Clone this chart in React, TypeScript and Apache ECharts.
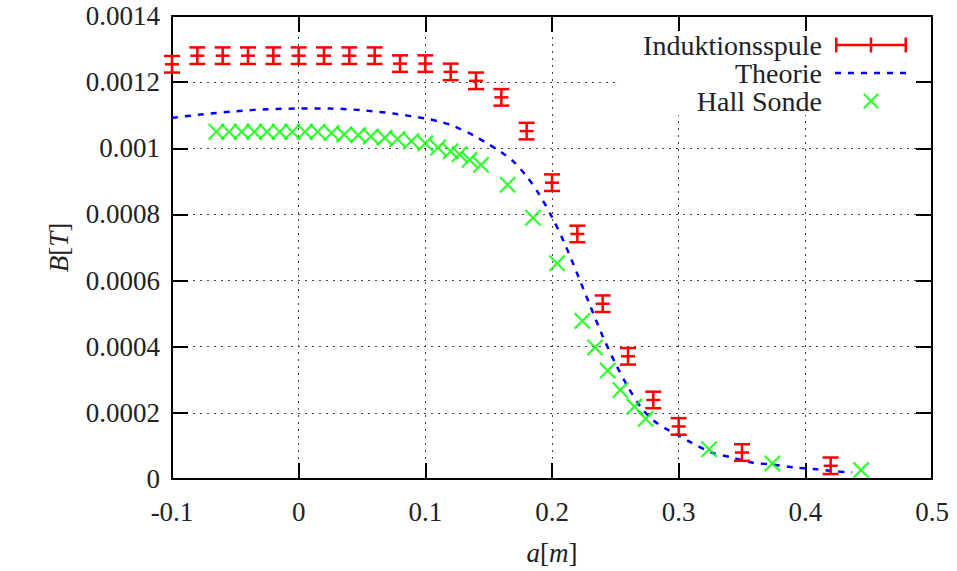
import React, { useEffect, useRef } from "react";
import * as echarts from "echarts";

// ---------- data ----------
const indX = [-0.1, -0.08, -0.06, -0.04, -0.02, 0, 0.02, 0.04, 0.06, 0.08, 0.1, 0.12, 0.14, 0.16, 0.18, 0.2, 0.22, 0.24, 0.26, 0.28, 0.3, 0.35, 0.42];
const indY = [0.001254, 0.00128, 0.00128, 0.00128, 0.00128, 0.00128, 0.00128, 0.00128, 0.00128, 0.001256, 0.001256, 0.001231, 0.001204, 0.001154, 0.001052, 0.000896, 0.000741, 0.00053, 0.000371, 0.000239, 0.000159, 0.00008, 0.00004];
const indErr = [0.000025, 0.000025, 0.000025, 0.000025, 0.000025, 0.000025, 0.000025, 0.000025, 0.000025, 0.000025, 0.000025, 0.000025, 0.000025, 0.000025, 0.000025, 0.000025, 0.000025, 0.000025, 0.000025, 0.000025, 0.000025, 0.000025, 0.000025];

const theoX = [-0.1, -0.075, -0.05, -0.025, 0, 0.025, 0.05, 0.075, 0.1, 0.112, 0.122, 0.14, 0.15, 0.16, 0.17, 0.18, 0.19, 0.2, 0.21, 0.22, 0.23, 0.24, 0.25, 0.26, 0.27, 0.28, 0.29, 0.3, 0.309, 0.326, 0.342, 0.358, 0.375, 0.391, 0.407, 0.424, 0.437];
const theoY = [0.001092, 0.001103, 0.001112, 0.001118, 0.00112, 0.00112, 0.001115, 0.001105, 0.00109, 0.00108, 0.001068, 0.001035, 0.001012, 0.000988, 0.000958, 0.000915, 0.00086, 0.000792, 0.000712, 0.00062, 0.000525, 0.000432, 0.00035, 0.000278, 0.000218, 0.000177, 0.000152, 0.000132, 0.000112, 0.00008, 0.000065, 0.00005, 0.000043, 0.000035, 0.00003, 0.000023, 0.00002];

const hallX = [-0.065, -0.055, -0.045, -0.035, -0.025, -0.015, -0.005, 0.005, 0.015, 0.026, 0.036, 0.047, 0.057, 0.068, 0.078, 0.089, 0.1, 0.11, 0.12, 0.127, 0.135, 0.144, 0.165, 0.185, 0.204, 0.224, 0.234, 0.244, 0.254, 0.265, 0.274, 0.324, 0.374, 0.444];
const hallY = [0.00105, 0.00105, 0.00105, 0.00105, 0.00105, 0.00105, 0.00105, 0.00105, 0.00105, 0.001046, 0.001042, 0.00104, 0.001036, 0.001032, 0.001028, 0.001022, 0.001015, 0.001002, 0.000991, 0.000982, 0.000965, 0.00095, 0.00089, 0.00079, 0.000652, 0.000478, 0.000398, 0.000328, 0.000269, 0.000219, 0.000182, 0.00009, 0.000047, 0.000027];

const seriesNames = ["Induktionsspule", "Theorie", "Hall Sonde"];
const xRange = [-0.1, 0.5, 0.1];
const yRange = [0, 0.0014, 0.0002];

// ---------- styling helpers ----------
const FONT = "'Liberation Serif', 'DejaVu Serif', serif";
const RED = "#ff0000";
const BLUE = "#0000ff";
const GREEN = "#00ff00";
const TXT = "#222";

const rp = (x: number, y: number, w: number, h: number) => `M${x} ${y}h${w}v${h}h${-w}Z`;
const xPath = (cx: number, cy: number, r: number, t: number) =>
  `M${cx - r} ${cy - r + t}L${cx - r + t} ${cy - r}L${cx + r} ${cy + r - t}L${cx + r - t} ${cy + r}Z` +
  `M${cx + r - t} ${cy - r}L${cx + r} ${cy - r + t}L${cx - r + t} ${cy + r}L${cx - r} ${cy + r - t}Z`;
const corners = "M0 0h0.01v0.01h-0.01Z" + "M79.99 15.99h0.01v0.01h-0.01Z";

const indIcon = "path://" + corners + rp(8, 6.75, 72, 2.5) + rp(8, 0.5, 2.5, 15) + rp(42.75, 0.5, 2.5, 15) + rp(77.5, 0.5, 2.5, 15);
const theoIcon = "path://" + corners + [8, 21, 34, 47, 60, 73].map((x) => rp(x, 6.75, 6, 2.5)).join("");
const hallIcon = "path://" + corners + xPath(44, 8, 8, 1.6);
const hallSymbol = "path://" + xPath(8.5, 8.5, 8.5, 1.6);

export default function App() {
  const ref = useRef<HTMLDivElement>(null);
  useEffect(() => {
    if (!ref.current) return;
    const chart = echarts.init(ref.current, undefined, { renderer: "svg" });

    const axisLine = { show: true, onZero: false, lineStyle: { color: "#000", width: 2 } };
    const axisTick = { show: true, inside: true, length: 16, lineStyle: { color: "#000", width: 2 } };
    const splitLine = { show: true, lineStyle: { color: "#444", width: 1, type: [2, 5] } };
    const label = { fontFamily: FONT, fontSize: 27, color: TXT };
    const nameStyle = {
      fontFamily: FONT,
      fontSize: 27,
      color: TXT,
      rich: { i: { fontStyle: "italic", fontFamily: FONT, fontSize: 27, color: TXT } },
    };

    const option: any = {
      animation: false,
      backgroundColor: "#fff",
      textStyle: { fontFamily: FONT },
      grid: { left: 172, right: 25, top: 16, bottom: 86, containLabel: false },
      legend: {
        orient: "vertical",
        right: 41,
        top: 31,
        align: "right",
        itemWidth: 80,
        itemHeight: 16,
        itemGap: 0,
        padding: [0, 9, 0, 23],
        backgroundColor: "#fff",
        selectedMode: false,
        itemStyle: { borderWidth: 0 },
        textStyle: { fontFamily: FONT, fontSize: 28, color: TXT },
        data: [
          { name: seriesNames[0], icon: indIcon },
          { name: seriesNames[1], icon: theoIcon },
          { name: seriesNames[2], icon: hallIcon },
        ],
      },
      xAxis: [
        {
          type: "value",
          min: xRange[0],
          max: xRange[1],
          interval: xRange[2],
          position: "bottom",
          axisLine,
          axisTick,
          splitLine,
          axisLabel: {
            ...label,
            margin: 19,
            formatter: (v: number) => String(Math.round(v * 10) / 10),
          },
          name: "{i|a}[{i|m}]",
          nameLocation: "middle",
          nameGap: 60,
          nameTextStyle: nameStyle,
        },
        {
          type: "value",
          min: xRange[0],
          max: xRange[1],
          interval: xRange[2],
          position: "top",
          axisLine,
          axisTick,
          splitLine: { show: false },
          axisLabel: { show: false },
        },
      ],
      yAxis: [
        {
          type: "value",
          min: yRange[0],
          max: yRange[1],
          interval: yRange[2],
          position: "left",
          axisLine,
          axisTick,
          splitLine,
          axisLabel: {
            ...label,
            margin: 12,
            formatter: (v: number) => String(Math.round(v * 1e4) / 1e4),
          },
          name: "{i|B}[{i|T}]",
          nameLocation: "middle",
          nameGap: 100,
          nameRotate: 90,
          nameTextStyle: nameStyle,
        },
        {
          type: "value",
          min: yRange[0],
          max: yRange[1],
          interval: yRange[2],
          position: "right",
          axisLine,
          axisTick,
          splitLine: { show: false },
          axisLabel: { show: false },
        },
      ],
      series: [
        {
          name: seriesNames[0],
          type: "custom",
          xAxisIndex: 0,
          yAxisIndex: 0,
          clip: false,
          z: 3,
          itemStyle: { color: RED },
          encode: { x: 0, y: 1 },
          data: indX.map((x, i) => [x, indY[i], indY[i] - indErr[i], indY[i] + indErr[i]]),
          renderItem: (params: any, api: any) => {
            const x = api.value(0);
            const c = api.coord([x, api.value(1)]);
            const lo = api.coord([x, api.value(2)]);
            const hi = api.coord([x, api.value(3)]);
            const st = { stroke: RED, lineWidth: 2.5 };
            const hw = 8;
            return {
              type: "group",
              children: [
                { type: "line", shape: { x1: lo[0], y1: lo[1], x2: hi[0], y2: hi[1] }, style: st },
                { type: "line", shape: { x1: lo[0] - hw, y1: lo[1], x2: lo[0] + hw, y2: lo[1] }, style: st },
                { type: "line", shape: { x1: hi[0] - hw, y1: hi[1], x2: hi[0] + hw, y2: hi[1] }, style: st },
                { type: "line", shape: { x1: c[0] - 7, y1: c[1], x2: c[0] + 7, y2: c[1] }, style: st },
              ],
            };
          },
        },
        {
          name: seriesNames[1],
          type: "line",
          xAxisIndex: 0,
          yAxisIndex: 0,
          symbol: "none",
          smooth: 0.3,
          z: 2,
          itemStyle: { color: BLUE },
          lineStyle: { color: BLUE, width: 2.5, type: [6, 7] },
          data: theoX.map((x, i) => [x, theoY[i]]),
        },
        {
          name: seriesNames[2],
          type: "scatter",
          xAxisIndex: 0,
          yAxisIndex: 0,
          symbol: hallSymbol,
          symbolSize: 17,
          clip: false,
          z: 4,
          itemStyle: { color: GREEN },
          data: hallX.map((x, i) => [x, hallY[i]]),
        },
      ],
    };
    chart.setOption(option);
    return () => chart.dispose();
  }, []);
  return <div ref={ref} style={{ position: "fixed", left: 0, top: 0, width: 957, height: 571 }} />;
}
